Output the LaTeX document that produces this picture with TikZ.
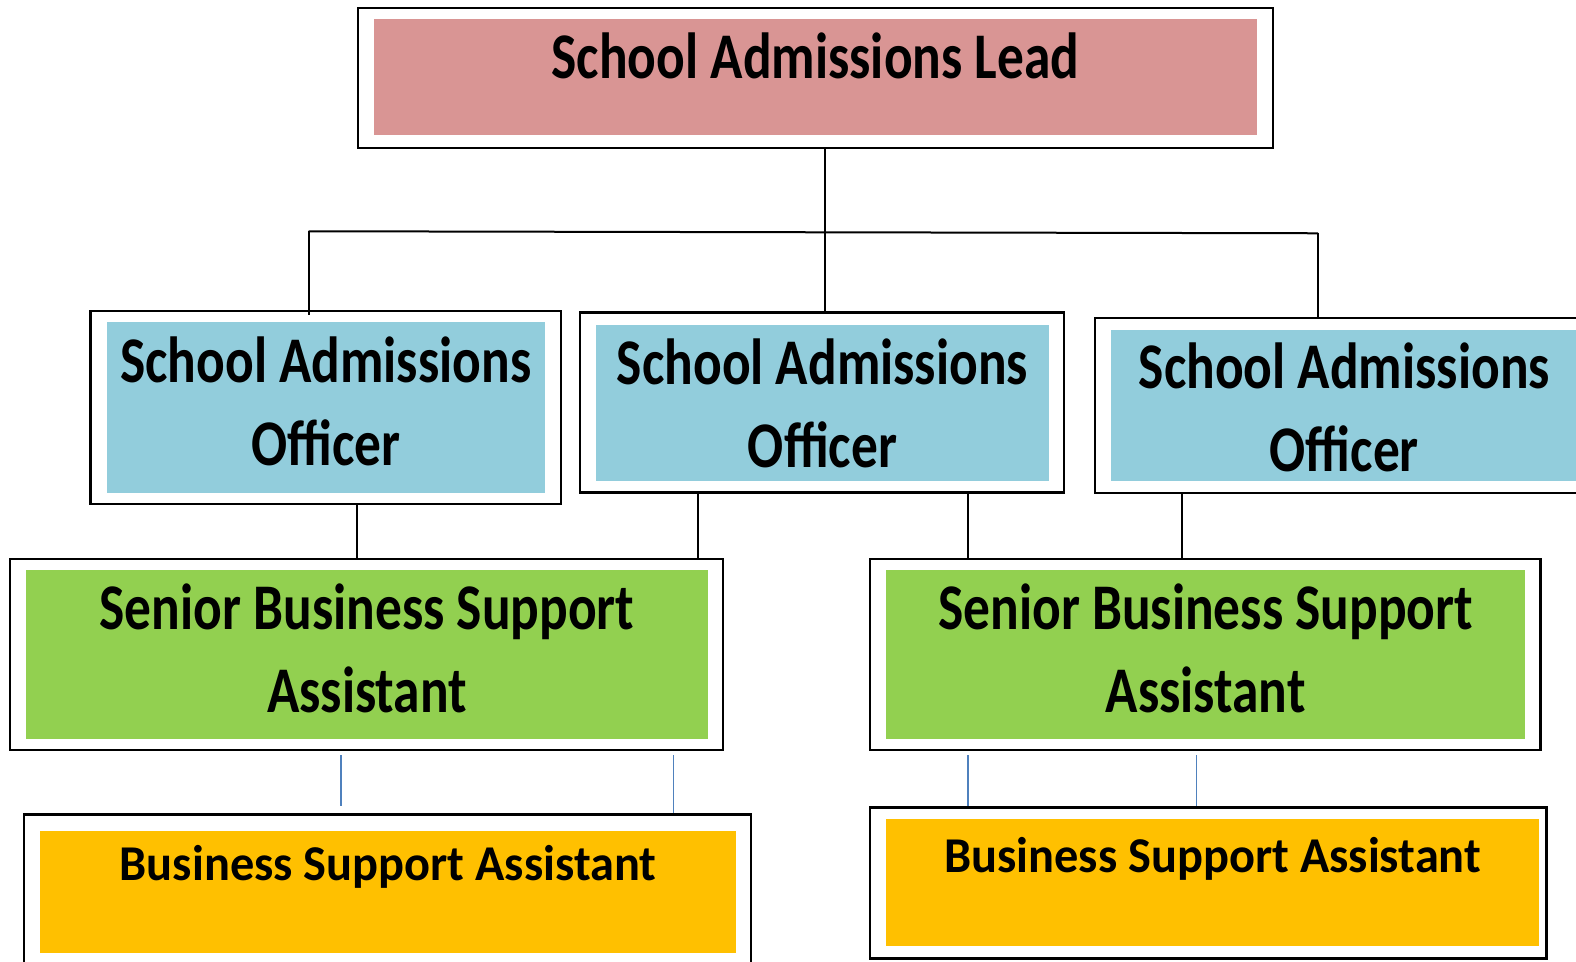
\documentclass[tikz,border=0pt]{standalone}
\usepackage{fontspec}
\setmainfont{Carlito}
\newfontfamily\bigfnt[FakeStretch=0.82]{Carlito}
\newfontfamily\smallfnt[FakeStretch=0.965]{Carlito}
\begin{document}
\begin{tikzpicture}[x=1.0055bp,y=-1.0055bp,
  outerbox/.style={draw=black,line width=2.4bp,fill=white,inner sep=0pt},
  lbl/.style={inner sep=0pt,font=\bigfnt\fontsize{65.4}{83}\selectfont\bfseries,align=center,anchor=base},
  slbl/.style={inner sep=0pt,font=\smallfnt\fontsize{50.3}{70}\selectfont\bfseries,align=center,anchor=base},
  conn/.style={line width=2bp,draw=black},
  bconn/.style={line width=1.6bp,draw=bluecon}]
\definecolor{pinkfill}{HTML}{D99594}
\definecolor{bluefill}{HTML}{92CDDC}
\definecolor{greenfill}{HTML}{92D050}
\definecolor{orangefill}{HTML}{FFC000}
\definecolor{bluecon}{HTML}{4F81BD}
\useasboundingbox (0,0) rectangle (1567.4,956.7);
\fill[white] (0,0) rectangle (1567.4,956.7);

% boxes
\node[outerbox,minimum width=915bp,minimum height=140bp] (lead) at (811,77.5) {};
\fill[pinkfill] (372,19) rectangle (1250,134);
\node[lbl] (leadt) at (811,78) {School Admissions Lead};

\node[outerbox,minimum width=470.5bp,minimum height=193bp] (oa) at (324,405) {};
\fill[bluefill] (106,320) rectangle (542,490);
\node[lbl] (oat1) at (324,380) {School Admissions};
\node[lbl] (oat2) at (324,463) {Officer};

\node[outerbox,minimum width=483.6bp,minimum height=180bp] (ob) at (817.5,400.5) {};
\fill[bluefill] (593,323) rectangle (1043,478);
\node[lbl] (obt1) at (818,382) {School Admissions};
\node[lbl] (obt2) at (818,465) {Officer};

\node[outerbox,minimum width=523bp,minimum height=175bp] (oc) at (1349,403) {};
\fill[bluefill] (1105,328) rectangle (1600,478);
\node[lbl] (oct1) at (1337,386) {School Admissions};
\node[lbl] (oct2) at (1337,469) {Officer};

\node[outerbox,minimum width=713bp,minimum height=191bp] (sa) at (364.5,651) {};
\fill[greenfill] (26,567) rectangle (704,735);
\node[lbl] (sat1) at (365,626) {Senior Business Support};
\node[lbl] (sat2) at (365,709) {Assistant};

\node[outerbox,minimum width=670.7bp,minimum height=191bp] (sb) at (1198.5,651) {};
\fill[greenfill] (881,567) rectangle (1517,735);
\node[lbl] (sbt1) at (1199,626) {Senior Business Support};
\node[lbl] (sbt2) at (1199,709) {Assistant};

\node[outerbox,minimum width=727bp,minimum height=161bp] (ba) at (385.5,890) {};
\fill[orangefill] (40,826) rectangle (732,948);
\node[slbl] (bat) at (386,876) {Business Support Assistant};

\node[outerbox,minimum width=676.7bp,minimum height=151bp] (bb) at (1201.5,878) {};
\fill[orangefill] (881,815) rectangle (1531,941);
\node[slbl] (bbt) at (1206,868) {Business Support Assistant};

% connectors
\coordinate (hl) at (307,230);
\coordinate (hr) at (1311,232);
\coordinate (hm) at (820,231);
\draw[conn] (lead.south -| hm) -- (ob.north -| hm);
\draw[conn] (hl) -- (hr);
\draw[conn] (hl) -- (307,313);
\draw[conn] (hr) -- (oc.north -| hr);
\draw[conn] (oa.south -| 355,0) -- (sa.north -| 355,0);
\draw[conn] (ob.south -| 694,0) -- (sa.north -| 694,0);
\draw[conn] (ob.south -| 963,0) -- (sb.north -| 963,0);
\draw[conn] (oc.south -| 1176,0) -- (sb.north -| 1176,0);
\coordinate (bl1) at (339,802);
\draw[bconn] (sa.south -| bl1) ++(0,4) -- (bl1);
\draw[bconn] (sa.south -| 670,0) ++(0,4) -- (ba.north -| 670,0);
\draw[bconn] (sb.south -| 963,0) ++(0,4) -- (bb.north -| 963,0);
\draw[bconn] (sb.south -| 1190,0) ++(0,4) -- (bb.north -| 1190,0);
\end{tikzpicture}
\end{document}
